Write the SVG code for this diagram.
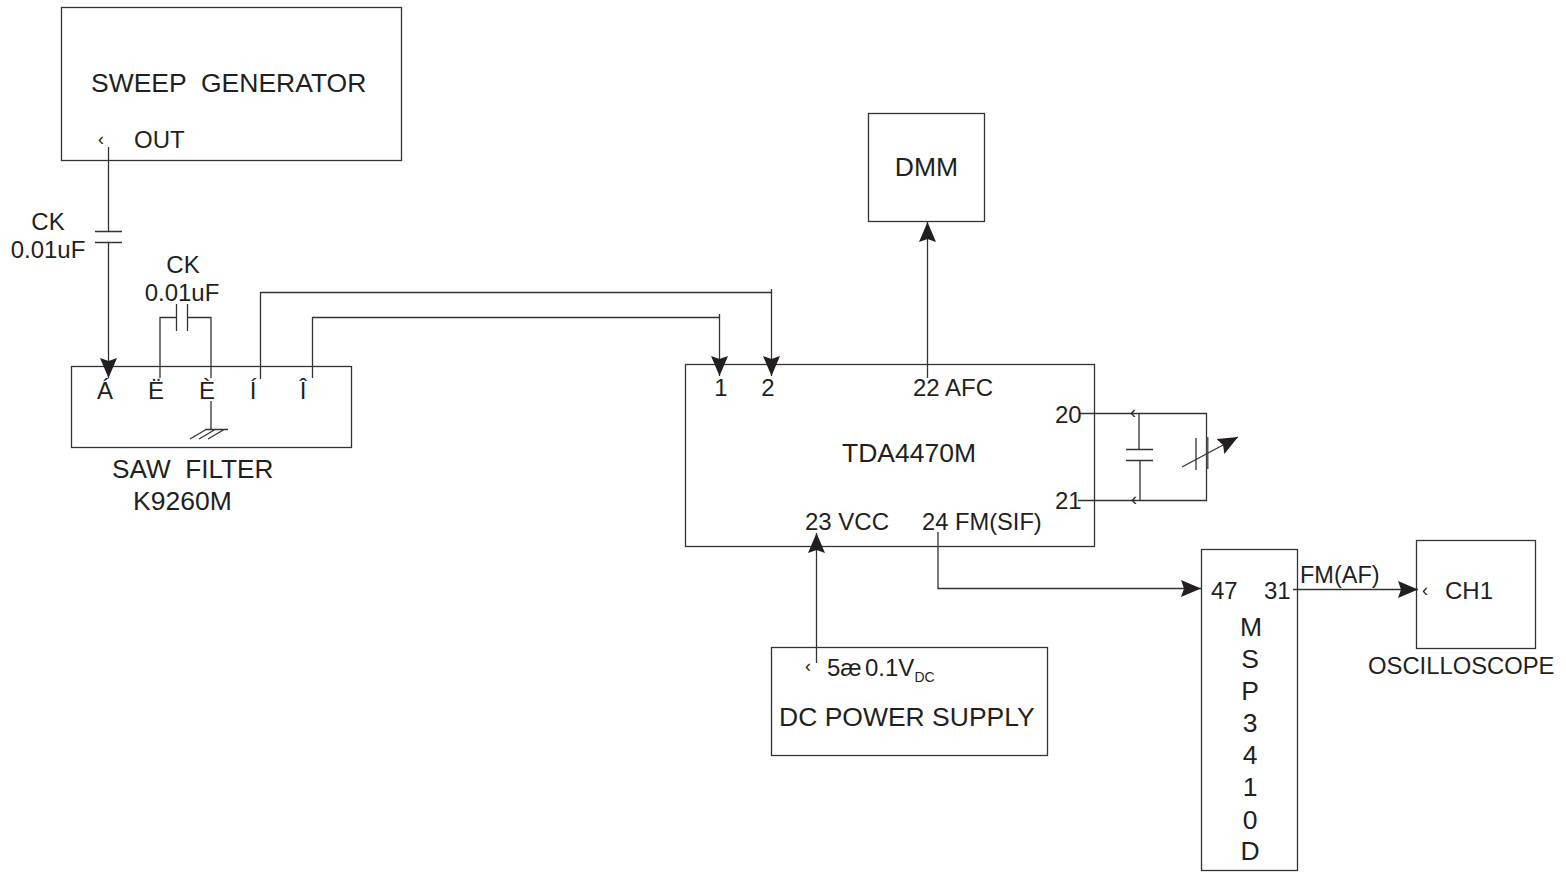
<svg xmlns="http://www.w3.org/2000/svg" width="1566" height="872" viewBox="0 0 1566 872">
<style>
text{font-family:"Liberation Sans",Arial,sans-serif;font-size:24px;fill:#231f20;white-space:pre}
.b{fill:#fff;stroke:#333;stroke-width:1.3}
.l{fill:none;stroke:#333;stroke-width:1.3}
.m{text-anchor:middle}
.s{font-size:18px}
.g{font-size:26.5px}
</style>
<defs>
<marker id="a" markerUnits="userSpaceOnUse" markerWidth="20" markerHeight="18" refX="20" refY="8.500" orient="auto"><path d="M0 0L20 8.500L0 17L3 8.500Z" fill="#231f20"/></marker>
</defs>
<rect width="1566" height="872" fill="#fff"/>
<g id="sweep-generator"><rect class="b" x="61.500" y="7.500" width="340" height="153"/><text class="g" x="91" y="92">SWEEP  GENERATOR</text><text x="134" y="148">OUT</text><text class="s" x="98" y="145">‹</text></g>
<g id="saw-filter"><rect class="b" x="71.500" y="366.500" width="280" height="81"/><text class="m" x="105" y="399">Á</text><text class="m" x="156" y="399">Ë</text><text class="m" x="207" y="399">È</text><text class="m" x="253" y="399">Í</text><text class="m" x="303" y="399">Î</text><text class="g" style="font-size:26.2px" x="112" y="478">SAW  FILTER</text><text class="g" x="133" y="510">K9260M</text></g>
<g id="dmm"><rect class="b" x="868.500" y="113.500" width="116" height="108"/><text class="m g" x="926.500" y="176">DMM</text></g>
<g id="tda4470m"><rect class="b" x="685.500" y="364.500" width="409" height="182"/><text class="m" x="721" y="396">1</text><text class="m" x="768" y="396">2</text><text x="913" y="396">22 AFC</text><text x="1055" y="423">20</text><text x="1055" y="509">21</text><text class="g" x="842" y="462">TDA4470M</text><text x="805" y="530">23 VCC</text><text style="font-size:23.700px" x="922" y="530">24 FM(SIF)</text></g>
<g id="dc-power-supply"><rect class="b" x="771.500" y="647.500" width="276" height="108"/><text class="s" x="805" y="672">‹</text><text x="827" y="676">5æ</text><text x="865" y="676">0.1V<tspan font-size="14" dy="5.500">DC</tspan></text><text class="g" x="779" y="726">DC POWER SUPPLY</text></g>
<g id="msp3410d"><rect class="b" x="1201.500" y="549.500" width="96" height="321"/><text x="1211" y="599">47</text><text x="1264" y="599">31</text><text class="m g" x="1251" y="636">M</text><text class="m g" x="1250" y="668">S</text><text class="m g" x="1250" y="700">P</text><text class="m g" x="1250" y="732">3</text><text class="m g" x="1250" y="764">4</text><text class="m g" x="1250" y="796">1</text><text class="m g" x="1250" y="829">0</text><text class="m g" x="1250" y="860">D</text></g>
<g id="oscilloscope"><rect class="b" x="1416.500" y="540.500" width="119" height="108"/><text class="s" x="1422" y="596">‹</text><text x="1445" y="599">CH1</text><text style="font-size:23.800px" x="1368" y="674">OSCILLOSCOPE</text></g>
<g id="connectors">
<path class="l" d="M108.500 147V231M108.500 242V378" marker-end="url(#a)"/>
<path class="l" d="M95 231.500H122M95 242.500H122"/>
<path class="l" d="M160 378V317.500H176.500M187.500 317.500H211V378M211 401V429M176.500 304V331M187.500 304V331"/>
<path class="l" d="M205 429.500H228M190 439L207 429M199 439L216 429M208 439L225 429"/>
<path class="l" d="M260.500 379V292.500H771.500"/>
<path class="l" d="M771.500 289V376" marker-end="url(#a)"/>
<path class="l" d="M312.500 378V317.500H719.500"/>
<path class="l" d="M719.500 314V376" marker-end="url(#a)"/>
<path class="l" d="M927.500 378V222" marker-end="url(#a)"/>
<path class="l" d="M1080 413.500H1206.500V500.500H1078M1139 413.500V449M1140 460V500.500"/>
<path class="l" d="M1126 449.500H1153M1126 460.500H1153M1196 438V470"/>
<path d="M1207.500 437V469" fill="none" stroke="#555" stroke-width="2"/>
<path class="l" d="M1182 467L1238 437" marker-end="url(#a)"/>
<path class="l" d="M816.500 663V533" marker-end="url(#a)"/>
<path class="l" d="M938 532V588.500H1201" marker-end="url(#a)"/>
<path class="l" d="M1293 589.500H1418" marker-end="url(#a)"/>
<text style="font-size:23.500px" x="1300" y="583">FM(AF)</text>
<text class="m" x="48" y="230">CK</text><text class="m" x="48" y="258">0.01uF</text>
<text class="m" x="183" y="273">CK</text><text class="m" x="182" y="301">0.01uF</text>
<text class="s" x="1130" y="418">‹</text><text class="s" x="1131" y="505">‹</text>
</g>
</svg>
